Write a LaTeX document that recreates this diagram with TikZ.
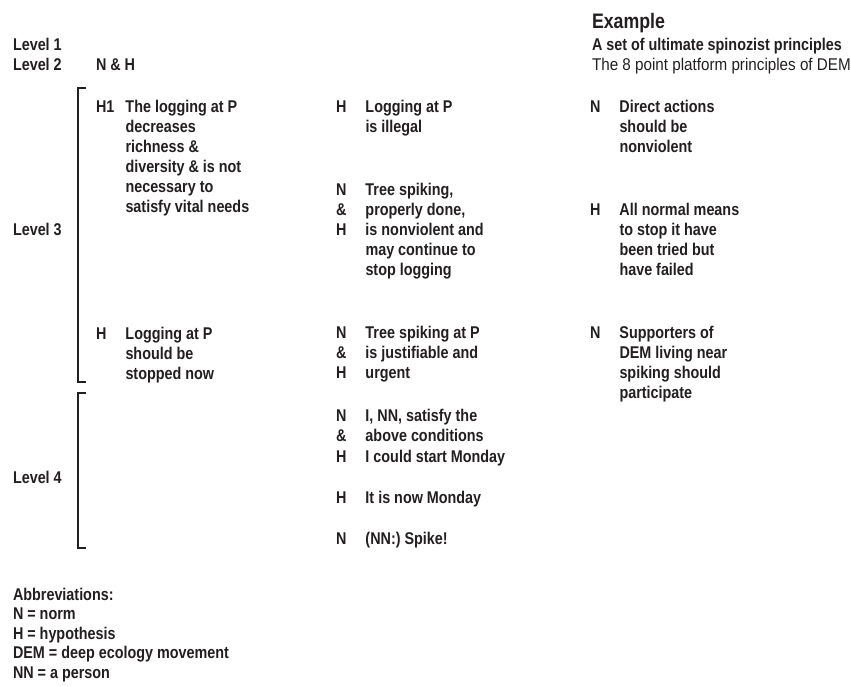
\documentclass[tikz,border=0pt]{standalone}
\usepackage{fontspec}
\usepackage{array}
\setmainfont{Liberation Sans}[FakeStretch=0.845]
\newfontfamily\regfont{Liberation Sans}[FakeStretch=0.895]
\definecolor{ink}{RGB}{35,31,32}
\newcommand\bodyfont{\bfseries\fontsize{17}{20}\selectfont}
\newcommand\blk[1]{\begin{tabular}[t]{@{}p{29.5pt}@{}l@{}}#1\end{tabular}}
\newcommand\onecol[1]{\begin{tabular}[t]{@{}l@{}}#1\end{tabular}}
\begin{document}
\begin{tikzpicture}[x=1pt,y=-1pt,
  every node/.style={inner sep=0pt, outer sep=0pt, anchor=base west, text=ink, font=\bodyfont},
  brk/.style={draw=ink, line width=1.8pt}]
\useasboundingbox (0,0) rectangle (851,686);
% header
\node (ex) at (592,28) {\fontsize{21}{24}\selectfont Example};
\node (set) at (592,50) {A set of ultimate spinozist principles};
\node (plat) at (592,70) {\regfont\mdseries The 8 point platform principles of DEM};
\node (l1) at (13,50) {Level 1};
\node (l2) at (13,70) {Level 2};
\node (nh) at (96,70) {N \& H};
\node (l3) at (13,235) {Level 3};
\node (l4) at (13,483) {Level 4};
% brackets
\coordinate (b1t) at (78,88); \coordinate (b1b) at (78,382);
\coordinate (b2t) at (78,393); \coordinate (b2b) at (78,548);
\draw[brk] ([xshift=8pt]b1t) -- (b1t) -- (b1b) -- ([xshift=8pt]b1b);
\draw[brk] ([xshift=8pt]b2t) -- (b2t) -- (b2b) -- ([xshift=8pt]b2b);
% column 1
\node (c1a) at (96,112) {\blk{H1 & The logging at P\\ & decreases\\ & richness \&\\ & diversity \& is not\\ & necessary to\\ & satisfy vital needs}};
\node (c1b) at (96,339) {\blk{H & Logging at P\\ & should be\\ & stopped now}};
% column 2
\node (c2a) at (336,112) {\blk{H & Logging at P\\ & is illegal}};
\node (c2b) at (336,195) {\blk{N & Tree spiking,\\ \& & properly done,\\ H & is nonviolent and\\ & may continue to\\ & stop logging}};
\node (c2c) at (336,338) {\blk{N & Tree spiking at P\\ \& & is justifiable and\\ H & urgent}};
\node (c2d) at (336,421) {\renewcommand\arraystretch{1.025}\blk{N & I, NN, satisfy the\\ \& & above conditions\\ H & I could start Monday}};
\node (c2e) at (336,503) {\blk{H & It is now Monday}};
\node (c2f) at (336,544) {\blk{N & (NN:) Spike!}};
% column 3
\node (c3a) at (590,112) {\blk{N & Direct actions\\ & should be\\ & nonviolent}};
\node (c3b) at (590,215) {\blk{H & All normal means\\ & to stop it have\\ & been tried but\\ & have failed}};
\node (c3c) at (590,338) {\blk{N & Supporters of\\ & DEM living near\\ & spiking should\\ & participate}};
% abbreviations
\node (abbr) at (13,600) {\renewcommand\arraystretch{0.975}\onecol{Abbreviations:\\ N = norm\\ H = hypothesis\\ DEM = deep ecology movement\\ NN = a person}};
\end{tikzpicture}
\end{document}
